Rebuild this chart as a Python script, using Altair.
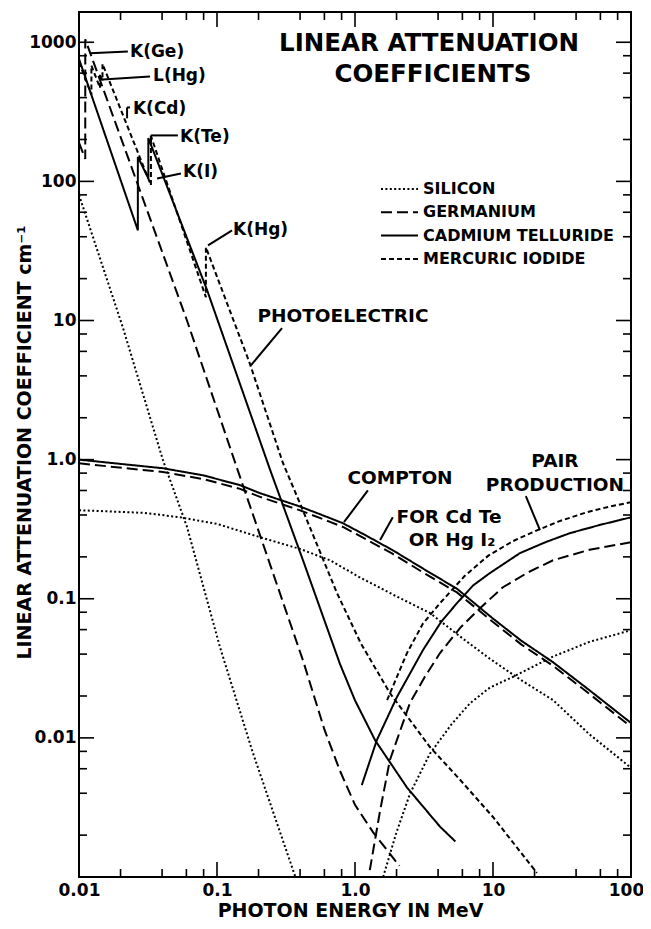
import altair as alt
import pandas as pd

FONT = "DejaVu Sans"

MATERIALS = ["SILICON", "GERMANIUM", "CADMIUM TELLURIDE", "MERCURIC IODIDE"]
DASHES = [[2, 2.4], [11, 5], [1, 0], [5, 3]]

# ---------------- photoelectric ----------------
SI_PHOTO_E = [0.01, 0.0208, 0.0406, 0.0607, 0.105, 0.182, 0.37]
SI_PHOTO_MU = [80, 8.9, 0.99, 0.327, 0.045, 0.0078, 0.001]

GE_PHOTO_E = [0.01, 0.0111, 0.0111, 0.0606, 0.147, 0.42, 0.6, 0.778, 1.0, 1.35, 2.1]
GE_PHOTO_MU = [190, 145, 1050, 10.0, 0.748, 0.036, 0.0115, 0.0058, 0.0033, 0.0021, 0.0012]

CDTE_PHOTO_E = [0.01, 0.0267, 0.0267, 0.0318, 0.0318, 0.0848, 0.242, 0.42,
                0.6, 0.778, 1.0, 1.4, 2.38, 4.13, 5.34]
CDTE_PHOTO_MU = [760, 44.5, 150, 105, 205, 16.5, 0.85, 0.189,
                 0.07, 0.034, 0.0186, 0.0096, 0.0044, 0.0023, 0.0018]

HGI2_PHOTO_E = [0.01, 0.0123, 0.0123, 0.0142, 0.0142, 0.0148, 0.0148, 0.0332,
                0.0332, 0.0831, 0.0831, 0.173, 0.30, 0.42, 0.74, 1.1, 1.79,
                3.49, 5.77, 10.0, 20.8]
HGI2_PHOTO_MU = [720, 420, 680, 470, 590, 530, 700, 94,
                 212, 14.7, 33.6, 4.9, 0.95, 0.43, 0.11, 0.048, 0.021,
                 0.0086, 0.005, 0.0027, 0.00107]

# ---------------- Compton ----------------
COMPTON_E = [0.01, 0.0406, 0.08, 0.147, 0.205, 0.4, 0.659, 0.818, 1.2, 1.88,
             3.2, 5.48, 10.0, 16.0, 27.2, 50.0, 100]
CDTE_COMPTON_MU = [1.0, 0.867, 0.77, 0.655, 0.574, 0.46, 0.38, 0.349, 0.285, 0.223,
                   0.162, 0.118, 0.072, 0.05, 0.035, 0.022, 0.0128]
GE_COMPTON_MU = [0.94, 0.815, 0.724, 0.616, 0.54, 0.432, 0.357, 0.328, 0.268, 0.21,
                 0.152, 0.111, 0.068, 0.047, 0.033, 0.0207, 0.012]

SI_COMPTON_E = [0.01, 0.03, 0.054, 0.1, 0.205, 0.4, 0.659, 1.09, 2.0, 3.49, 6.0,
                9.5, 16.0, 27.2, 50.0, 100]
SI_COMPTON_MU = [0.433, 0.414, 0.385, 0.345, 0.277, 0.228, 0.189, 0.142, 0.104, 0.079,
                 0.052, 0.037, 0.026, 0.0187, 0.0106, 0.0061]

# ---------------- pair production ----------------
SI_PAIR_E = [1.6, 2.0, 2.51, 3.49, 5.0, 6.8, 9.5, 14, 27.2, 50, 100]
SI_PAIR_MU = [0.001, 0.0021, 0.004, 0.0077, 0.0125, 0.0177, 0.023, 0.0275, 0.0384, 0.049, 0.0594]

GE_PAIR_E = [1.28, 1.52, 1.79, 2.5, 3.2, 4.13, 5.8, 8.05, 11.8, 18, 27.2, 50, 100]
GE_PAIR_MU = [0.00112, 0.003, 0.00693, 0.0178, 0.0274, 0.0407, 0.062, 0.0855, 0.121,
              0.155, 0.189, 0.225, 0.255]

CDTE_PAIR_E = [1.12, 1.44, 2.01, 3.11, 4.2, 5.48, 7.2, 9.5, 15.7, 24, 36, 60, 100]
CDTE_PAIR_MU = [0.00458, 0.00964, 0.0196, 0.0428, 0.068, 0.093, 0.125, 0.153, 0.213,
                0.255, 0.296, 0.34, 0.385]

HGI2_PAIR_E = [1.71, 2.38, 3.1, 4.13, 6.2, 9.3, 14, 20.8, 30, 48, 70, 100]
HGI2_PAIR_MU = [0.0187, 0.0407, 0.066, 0.093, 0.145, 0.205, 0.26, 0.31, 0.36, 0.419,
                0.46, 0.494]

CURVES = [
    ("si_photo", "SILICON", SI_PHOTO_E, SI_PHOTO_MU),
    ("si_compton", "SILICON", SI_COMPTON_E, SI_COMPTON_MU),
    ("si_pair", "SILICON", SI_PAIR_E, SI_PAIR_MU),
    ("ge_photo", "GERMANIUM", GE_PHOTO_E, GE_PHOTO_MU),
    ("ge_compton", "GERMANIUM", COMPTON_E, GE_COMPTON_MU),
    ("ge_pair", "GERMANIUM", GE_PAIR_E, GE_PAIR_MU),
    ("cdte_photo", "CADMIUM TELLURIDE", CDTE_PHOTO_E, CDTE_PHOTO_MU),
    ("cdte_compton", "CADMIUM TELLURIDE", COMPTON_E, CDTE_COMPTON_MU),
    ("cdte_pair", "CADMIUM TELLURIDE", CDTE_PAIR_E, CDTE_PAIR_MU),
    ("hgi2_photo", "MERCURIC IODIDE", HGI2_PHOTO_E, HGI2_PHOTO_MU),
    ("hgi2_pair", "MERCURIC IODIDE", HGI2_PAIR_E, HGI2_PAIR_MU),
]

# ---------------- axes / ticks ----------------
X_LABEL_VALUES = [0.01, 0.1, 1, 10, 100]
Y_LABEL_VALUES = [0.01, 0.1, 1, 10, 100, 1000]
X_MAJOR_TICKS = [0.1, 1, 10]
X_MINOR_TICKS = [0.02, 0.04, 0.06, 0.08, 0.2, 0.4, 0.6, 0.8,
                 2, 4, 6, 8, 20, 40, 60, 80]
Y_MAJOR_TICKS = [0.01, 0.1, 1, 10, 100, 1000]
Y_MINOR_TICKS = [0.002, 0.004, 0.006, 0.008, 0.02, 0.04, 0.06, 0.08,
                 0.2, 0.4, 0.6, 0.8, 2, 4, 6, 8, 20, 40, 60, 80,
                 200, 400, 600, 800]

# ---------------- annotations ----------------
TITLE_TEXT = ["LINEAR ATTENUATION", "COEFFICIENTS"]
TITLE_E = [3.44, 3.67]
TITLE_MU = [964, 577]

EDGE_TEXT = ["K(Ge)", "L(Hg)", "K(Cd)", "K(Te)", "K(I)", "K(Hg)"]
EDGE_E = [0.0234, 0.0344, 0.0246, 0.054, 0.0567, 0.1306]
EDGE_MU = [845, 568, 329, 207, 116, 44.5]

NOTE_TEXT = ["PHOTOELECTRIC", "COMPTON", "FOR Cd Te", "OR Hg I\u2082",
             "PAIR", "PRODUCTION"]
NOTE_E = [0.818, 2.12, 4.80, 5.05, 28.1, 28.1]
NOTE_MU = [10.7, 0.734, 0.386, 0.264, 0.975, 0.655]

LEADER_E1 = [0.0226, 0.0327, 0.0234, 0.0223, 0.0521, 0.0332, 0.0548, 0.1286,
             0.296, 1.24, 1.88, 17.3]
LEADER_MU1 = [859, 568, 340, 340, 214, 214, 114, 44.5,
              8.8, 0.602, 0.386, 0.546]
LEADER_E2 = [0.0120, 0.0149, 0.0223, 0.0223, 0.0332, 0.0332, 0.0368, 0.0861,
             0.176, 0.832, 1.52, 21.9]
LEADER_MU2 = [832, 540, 340, 284, 214, 181, 105, 34.7,
              4.76, 0.355, 0.264, 0.311]

# ---------------- build tables ----------------
rows = []
for cid, mat, es, ms in CURVES:
    for i, (e, m) in enumerate(zip(es, ms)):
        rows.append({"curve": cid, "material": mat, "E": e, "mu": m, "i": i})
curves_df = pd.DataFrame(rows)

W, H = 552, 865
MAJ, MIN = 15, 8

xs = alt.Scale(type="log", domain=[0.01, 100], nice=False)
ys = alt.Scale(type="log", domain=[0.001, 1650], nice=False)

label_expr = "datum.value == 1 ? '1.0' : format(datum.value, '~g')"

x_axis = alt.Axis(
    values=X_LABEL_VALUES, labelExpr=label_expr, ticks=False, tickSize=0,
    domain=False, grid=False, labelFlush=False, labelOverlap=False,
    labelPadding=5, labelFont=FONT, labelFontSize=17, labelFontWeight="bold",
    labelColor="black",
    labelOffset={"condition": {"test": "datum.value >= 100", "value": -5}, "value": 0},
    title="PHOTON ENERGY IN MeV", titleFont=FONT,
    titleFontSize=19, titleFontWeight="bold", titleColor="black",
    titleX=271, titleY=33, titleAlign="center", titleBaseline="middle",
)
y_axis = alt.Axis(
    values=Y_LABEL_VALUES, labelExpr=label_expr, ticks=False, tickSize=0,
    domain=False, grid=False, labelFlush=False, labelOverlap=False,
    labelPadding=3, labelFont=FONT, labelFontSize=17, labelFontWeight="bold",
    labelColor="black", title="LINEAR ATTENUATION COEFFICIENT cm\u207b\u00b9",
    titleFont=FONT, titleFontSize=19, titleFontWeight="bold",
    titleColor="black", titleX=-55, titleY=430, titleAlign="center",
    titleBaseline="middle", titleAngle=270,
)


def X(field):
    return alt.X(f"{field}:Q", scale=xs, axis=x_axis)


def Y(field):
    return alt.Y(f"{field}:Q", scale=ys, axis=y_axis)


lines = alt.Chart(curves_df).mark_line(
    color="black", strokeWidth=2, clip=True, strokeCap="butt"
).encode(
    x=X("E"),
    y=Y("mu"),
    strokeDash=alt.StrokeDash(
        "material:N",
        scale=alt.Scale(domain=MATERIALS, range=DASHES),
        legend=alt.Legend(
            title=None, orient="none", legendX=301, legendY=168,
            symbolType="stroke", symbolSize=1369, symbolStrokeWidth=2,
            symbolStrokeColor="black", labelFont=FONT, labelFontSize=16,
            labelFontWeight="bold", labelColor="black", labelOffset=4,
            labelLimit=0, clipHeight=18, rowPadding=5.3, padding=0,
            direction="vertical",
        ),
    ),
    detail="curve:N",
    order="i:Q",
)


def tick_layer(values, field, side, length):
    df = pd.DataFrame({field: values})
    base = alt.Chart(df).mark_rule(color="black", strokeWidth=1.6)
    if side == "bottom":
        return base.encode(x=X(field), y=alt.value(H), y2=alt.value(H - length))
    if side == "top":
        return base.encode(x=X(field), y=alt.value(0), y2=alt.value(length))
    if side == "left":
        return base.encode(y=Y(field), x=alt.value(0), x2=alt.value(length))
    return base.encode(y=Y(field), x=alt.value(W), x2=alt.value(W - length))


ticks = [
    tick_layer(X_MAJOR_TICKS, "E", "bottom", MAJ),
    tick_layer(X_MINOR_TICKS, "E", "bottom", MIN),
    tick_layer(X_MAJOR_TICKS, "E", "top", MAJ),
    tick_layer(X_MINOR_TICKS, "E", "top", MIN),
    tick_layer(Y_MAJOR_TICKS, "mu", "left", MAJ),
    tick_layer(Y_MINOR_TICKS, "mu", "left", MIN),
    tick_layer(Y_MAJOR_TICKS, "mu", "right", MAJ),
    tick_layer(Y_MINOR_TICKS, "mu", "right", MIN),
]

title_df = pd.DataFrame({"t": TITLE_TEXT, "E": TITLE_E, "mu": TITLE_MU})
title_layer = alt.Chart(title_df).mark_text(
    font=FONT, fontSize=24.5, fontWeight="bold", color="black",
    align="center", baseline="middle"
).encode(x=X("E"), y=Y("mu"), text="t:N")

edge_df = pd.DataFrame({"t": EDGE_TEXT, "E": EDGE_E, "mu": EDGE_MU})
edge_layer = alt.Chart(edge_df).mark_text(
    font=FONT, fontSize=17, fontWeight="bold", color="black",
    align="left", baseline="middle"
).encode(x=X("E"), y=Y("mu"), text="t:N")

note_df = pd.DataFrame({"t": NOTE_TEXT, "E": NOTE_E, "mu": NOTE_MU})
note_layer = alt.Chart(note_df).mark_text(
    font=FONT, fontSize=18.5, fontWeight="bold", color="black",
    align="center", baseline="middle"
).encode(x=X("E"), y=Y("mu"), text="t:N")

leader_df = pd.DataFrame({"E1": LEADER_E1, "mu1": LEADER_MU1,
                          "E2": LEADER_E2, "mu2": LEADER_MU2})
leader_layer = alt.Chart(leader_df).mark_rule(
    color="black", strokeWidth=2
).encode(x=X("E1"), x2="E2:Q", y=Y("mu1"), y2="mu2:Q")

chart = alt.layer(
    lines, *ticks, leader_layer, title_layer, edge_layer, note_layer
).properties(
    width=W, height=H,
    autosize=alt.AutoSizeParams(type="none"),
    padding={"left": 71, "top": 4, "right": 12, "bottom": 44},
    background="white",
).configure_view(stroke="black", strokeWidth=2)

chart.save("out.html", embed_options={"renderer": "svg", "actions": False})
